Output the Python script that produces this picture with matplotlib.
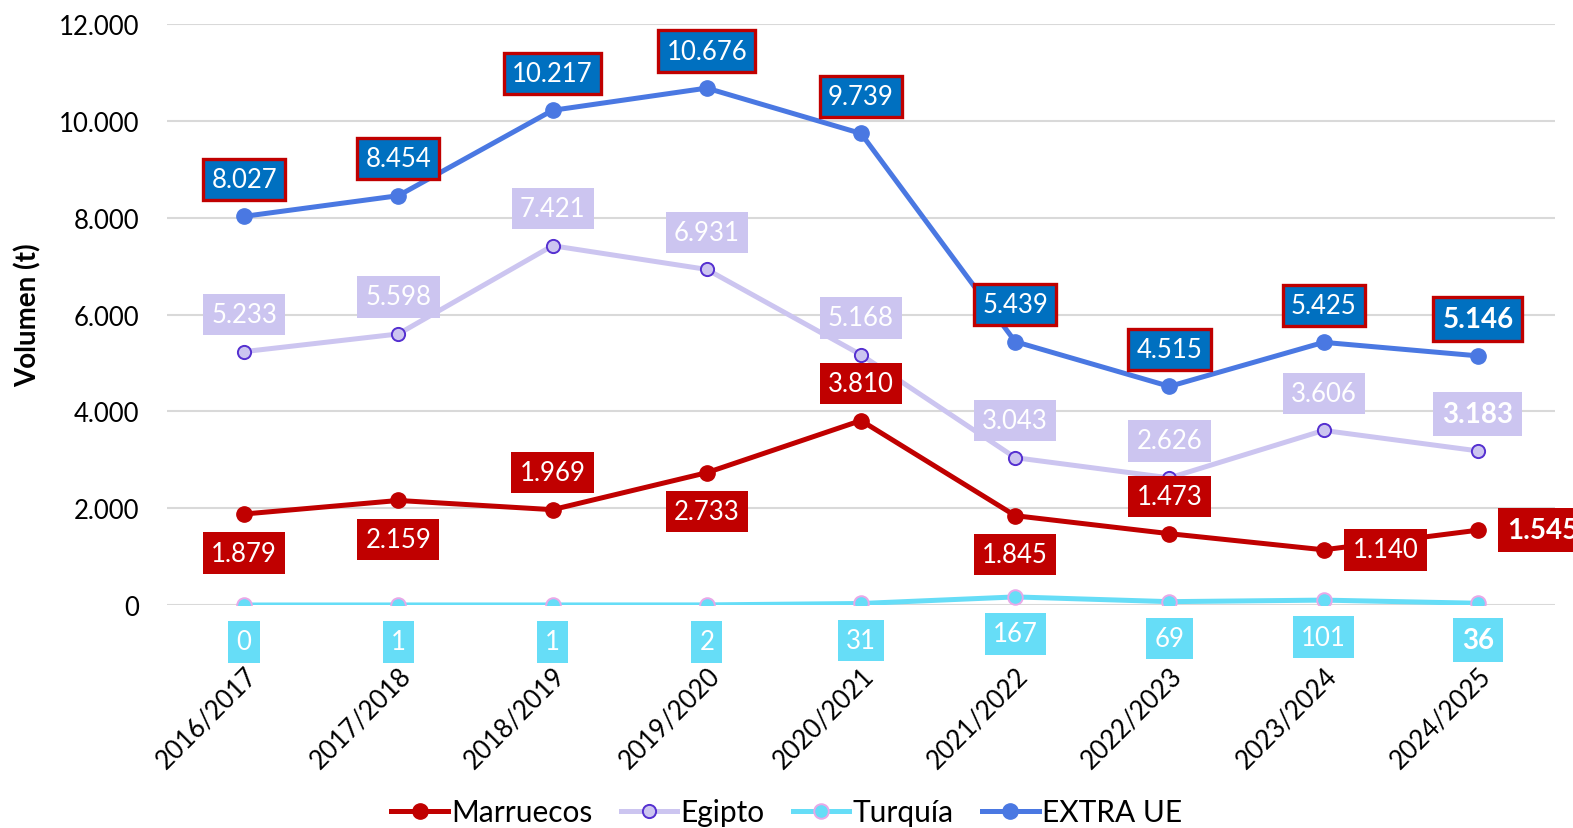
import numpy as np
import matplotlib
matplotlib.use('Agg')
import matplotlib.pyplot as plt

# data
campanas = ['2016/2017', '2017/2018', '2018/2019', '2019/2020', '2020/2021',
            '2021/2022', '2022/2023', '2023/2024', '2024/2025']
marruecos = [1879, 2159, 1969, 2733, 3810, 1845, 1473, 1140, 1545]
egipto = [5233, 5598, 7421, 6931, 5168, 3043, 2626, 3606, 3183]
turquia = [0, 1, 1, 2, 31, 167, 69, 101, 36]
extra_ue = [8027, 8454, 10217, 10676, 9739, 5439, 4515, 5425, 5146]
yticks = [0, 2000, 4000, 6000, 8000, 10000, 12000]

# where each Marruecos label sits: 'b' below, 'a' above, 'r' right
pos_marr = ['b', 'b', 'a', 'b', 'a', 'b', 'a', 'r', 'r']

plt.rcParams['font.family'] = ['Lato', 'DejaVu Sans']

fig = plt.figure(figsize=(15.73, 8.29), dpi=100)
ax = fig.add_axes([167/1573, 1-606/829, (1555-167)/1573, 581/829])

x = np.arange(len(campanas))

c_mar = '#C00000'
c_egi = '#CCC5F0'
c_tur = '#66DDF7'
c_ext = '#4A78E2'

ax.plot(x, marruecos, color=c_mar, lw=3.6, marker='o', ms=11, mfc=c_mar, mec=c_mar,
        label='Marruecos', zorder=4)
ax.plot(x, egipto, color=c_egi, lw=3.6, marker='o', ms=9.5, mfc=c_egi, mec='#5530D0',
        mew=1.4, label='Egipto', zorder=3)
ax.plot(x, turquia, color=c_tur, lw=3.6, marker='o', ms=10.5, mfc=c_tur, mec='#E8A8E8',
        mew=1.4, label='Turquía', zorder=3)
ax.plot(x, extra_ue, color=c_ext, lw=3.6, marker='o', ms=11, mfc=c_ext, mec=c_ext,
        label='EXTRA UE', zorder=4)

fs = 18.5
last = len(campanas) - 1

def label(xi, yi, txt, dx, dy, fc, ec, bold, ha='center', lw=0):
    ax.annotate(txt, (xi, yi), xytext=(dx, dy), textcoords='offset pixels',
                ha=ha, va='center', fontsize=fs + (1.5 if bold else 0), color='white',
                fontweight='bold' if bold else 'normal', zorder=6,
                bbox=dict(boxstyle='square,pad=0.32', fc=fc, ec=ec, lw=lw))

def fmt(v):
    return f'{v:,}'.replace(',', '.')

for i in x:
    b = i == last
    label(i, extra_ue[i], fmt(extra_ue[i]), 0, 37, '#0070C0', c_mar, b, lw=2.4)
    label(i, egipto[i], fmt(egipto[i]), 0, 37, c_egi, c_egi, b)
    label(i, turquia[i], fmt(turquia[i]), 0, -37, c_tur, c_tur, b)
    p = pos_marr[i]
    if p == 'b':
        label(i, marruecos[i], fmt(marruecos[i]), 0, -39, c_mar, c_mar, b)
    elif p == 'a':
        label(i, marruecos[i], fmt(marruecos[i]), 0, 37, c_mar, c_mar, b)
    else:
        label(i, marruecos[i], fmt(marruecos[i]), 29, 0, c_mar, c_mar, b, ha='left')

ax.set_xlim(-0.5, len(campanas) - 0.5)
ax.set_ylim(0, 12000)
ax.set_yticks(yticks)
ax.set_yticklabels([fmt(v) for v in yticks])
ax.grid(axis='y', color='#D9D9D9', lw=1.5)
ax.set_axisbelow(True)
for s in ax.spines.values():
    s.set_visible(False)
ax.tick_params(axis='y', length=0, pad=20, labelsize=18.5)
ax.tick_params(axis='x', length=0, pad=41, labelsize=18.5)
ax.set_xticks(x)
ax.set_xticklabels(campanas, rotation=45, ha='right', va='top', rotation_mode='anchor')
ax.set_ylabel('Volumen (t)', fontsize=20, fontweight='bold', labelpad=12)

fig.legend(loc='center', bbox_to_anchor=(0.5, 1-813/829), ncol=4, frameon=False,
           fontsize=21.5, handlelength=1.9, handletextpad=0.1, columnspacing=0.95)

plt.savefig('out.png', dpi=100)
